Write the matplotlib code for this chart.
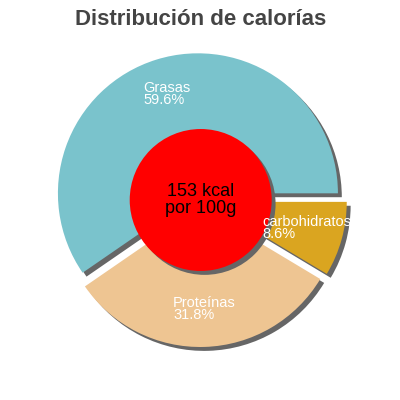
import matplotlib
matplotlib.use("Agg")
import matplotlib.pyplot as plt
import matplotlib.patches as mpatches

# data
labels = ["Grasas", "Proteínas", "carbohidratos"]
percents = [59.6, 31.8, 8.6]
colors = ["#7ac3cc", "#eec592", "#daa520"]
kcal = 153
title = "Distribución de calorías"

# label positions (data coords, left / last baseline)
label_pos = [(-0.407, 0.686), (-0.193, -0.85), (0.443, -0.271)]

plt.rcParams['font.family'] = ['Liberation Sans', 'DejaVu Sans']

fig = plt.figure(figsize=(4, 4), dpi=100)
ax = fig.add_axes([0, 0, 1, 1])
lim = 200 / 140

wedges, _ = ax.pie(percents, colors=colors, startangle=0, counterclock=True,
                   explode=[0.05] * len(percents), radius=1.0,
                   shadow={'ox': 0.02, 'oy': -0.02, 'facecolor': '#666666',
                           'edgecolor': 'none', 'alpha': 1.0},
                   wedgeprops={'linewidth': 0})
ax.set_xlim(-lim, lim)
ax.set_ylim(-lim, lim)
ax.set_aspect("equal")
ax.axis("off")

circle = mpatches.Circle((0.005, 0), 0.507, facecolor="#ff0000", edgecolor="none", zorder=5)
shadow = mpatches.Shadow(circle, 0.02, -0.02, facecolor="#666666", edgecolor="none",
                         alpha=1.0, zorder=4.9)
ax.add_patch(shadow)
ax.add_patch(circle)
ax.text(0.005, 0.0, f"{kcal} kcal\npor 100g", color="black", fontsize=13,
        ha="center", va="center", linespacing=0.95, zorder=6)

for name, p, (x, y) in zip(labels, percents, label_pos):
    ax.text(x, y, f"{name}\n{p}%", color="white", fontsize=10.5, ha="left",
            va="baseline", linespacing=0.78, zorder=7)

fig.text(0.5025, 1 - 25 / 400, title, ha="center", va="baseline",
         fontsize=16, fontweight="bold", color="#444444")

fig.savefig("out.png", dpi=100)
